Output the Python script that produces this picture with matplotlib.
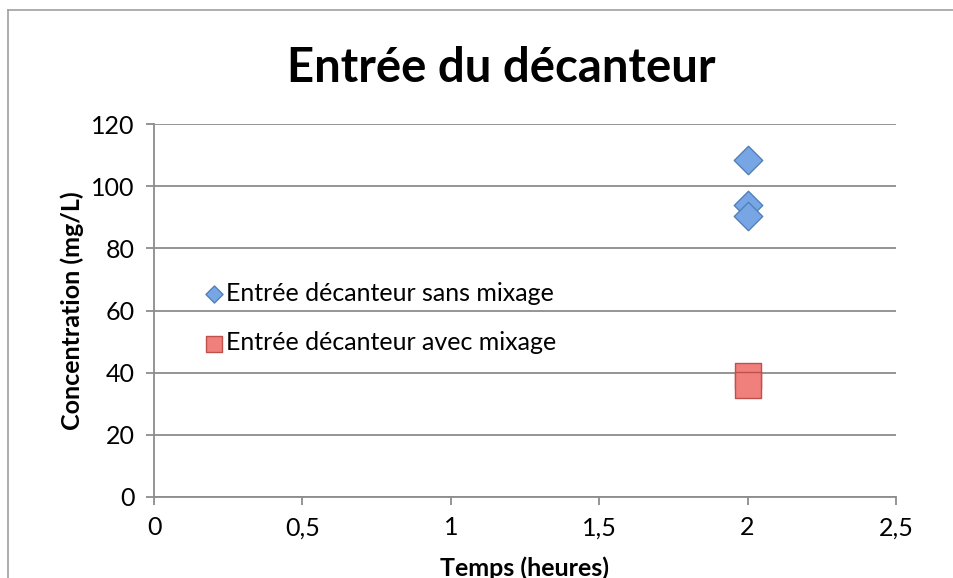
import matplotlib.pyplot as plt
from matplotlib.lines import Line2D
from matplotlib.ticker import FuncFormatter

plt.rcParams['font.family'] = ['Lato', 'DejaVu Sans']

# data
temps_sans = [2, 2, 2]
conc_sans = [108.5, 94, 90.5]
temps_avec = [2, 2]
conc_avec = [39, 36]

label_sans = "Entrée décanteur sans mixage"
label_avec = "Entrée décanteur avec mixage"

fig = plt.figure(figsize=(9.54, 5.78), dpi=100)
W, H = 954, 578
ax = fig.add_axes([154 / W, 1 - 497 / H, (896 - 154) / W, (497 - 124) / H])

# outer chart border: only left and top are visible in the screenshot
fig.add_artist(Line2D([8 / W, 8 / W], [0, 1 - 10 / H], transform=fig.transFigure,
                      color='#a0a0a0', linewidth=1.2))
fig.add_artist(Line2D([8 / W, 1], [1 - 10 / H, 1 - 10 / H], transform=fig.transFigure,
                      color='#a0a0a0', linewidth=1.2))

ax.scatter(temps_sans, conc_sans, marker='D', s=210, color='#78a6e4',
           edgecolor='#4f81bd', linewidth=1.0, zorder=3, label=label_sans)
ax.scatter(temps_avec, conc_avec, marker='s', s=330, color='#f0807c',
           edgecolor='#c0504d', linewidth=1.0, zorder=3, label=label_avec)

ax.set_xlim(0, 2.5)
ax.set_ylim(0, 120)
ax.set_xticks([0, 0.5, 1, 1.5, 2, 2.5])
ax.set_yticks(range(0, 121, 20))
ax.xaxis.set_major_formatter(FuncFormatter(lambda v, p: ('%g' % v).replace('.', ',')))
ax.grid(axis='y', color='#8c8c8c', linewidth=1.3)
ax.set_axisbelow(True)

for s in ['top', 'right']:
    ax.spines[s].set_visible(False)
for s in ['left', 'bottom']:
    ax.spines[s].set_color('#8c8c8c')
    ax.spines[s].set_linewidth(1.3)
ax.tick_params(axis='both', colors='#8c8c8c', length=6, width=1.3,
               labelsize=18, labelcolor='black')
ax.tick_params(axis='x', pad=8)
ax.tick_params(axis='y', pad=8)

fig.text(501 / W, 1 - 68 / H, "Entrée du décanteur", fontsize=34,
         fontweight='bold', ha='center', va='center')
ax.set_xlabel("Temps (heures)", fontsize=18, fontweight='bold', labelpad=12)
ax.set_ylabel("Concentration (mg/L)", fontsize=18, fontweight='bold', labelpad=5)

leg = ax.legend(loc='upper left', bbox_to_anchor=(0.05, 0.61), frameon=False,
                fontsize=18, markerscale=0.6, handletextpad=0.1,
                labelspacing=1.05, borderpad=0, handlelength=0.8)

fig.savefig("out.png", dpi=100)
